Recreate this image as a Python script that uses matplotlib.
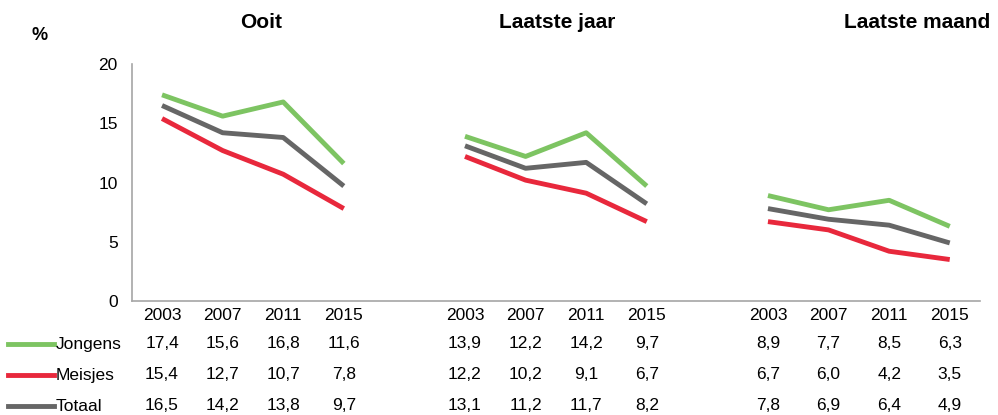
import matplotlib.pyplot as plt
import numpy as np

years = ["2003", "2007", "2011", "2015"]
groups = ["Ooit", "Laatste jaar", "Laatste maand"]
series = ["Jongens", "Meisjes", "Totaal"]
colors = ["#7dc462", "#e8283c", "#666666"]

jongens = [[17.4, 15.6, 16.8, 11.6], [13.9, 12.2, 14.2, 9.7], [8.9, 7.7, 8.5, 6.3]]
meisjes = [[15.4, 12.7, 10.7, 7.8], [12.2, 10.2, 9.1, 6.7], [6.7, 6.0, 4.2, 3.5]]
totaal = [[16.5, 14.2, 13.8, 9.7], [13.1, 11.2, 11.7, 8.2], [7.8, 6.9, 6.4, 4.9]]
values = [jongens, meisjes, totaal]

plt.rcParams['font.family'] = ['Liberation Sans', 'DejaVu Sans']

fig = plt.figure(figsize=(9.98, 4.15), dpi=100)
ax = fig.add_axes([0.132, 0.2747, 0.85, 0.571])

fs = 12.5
lw = 3.5
for s, (name, col) in enumerate(zip(series, colors)):
    for g in range(3):
        x = np.arange(4) + g * 5
        ax.plot(x, values[s][g], color=col, lw=lw, solid_capstyle='butt')

ax.set_xlim(-0.5, 13.5)
ax.set_ylim(0, 20)
ax.set_yticks([0, 5, 10, 15, 20])
ax.set_xticks([])
ax.tick_params(axis='y', length=0, labelsize=fs, pad=10)
for side in ['top', 'right']:
    ax.spines[side].set_visible(False)
for side in ['left', 'bottom']:
    ax.spines[side].set_color('#a6a6a6')
    ax.spines[side].set_linewidth(1.2)

tr = ax.get_xaxis_transform()
row_y = [-0.181, -0.312, -0.443]
for g in range(3):
    for i, yr in enumerate(years):
        xi = g * 5 + i
        ax.text(xi, -0.063, yr, transform=tr, ha='center', va='center', fontsize=fs, clip_on=False)
        for s in range(3):
            txt = f"{values[s][g][i]:.1f}".replace('.', ',')
            ax.text(xi, row_y[s], txt, transform=tr, ha='center', va='center', fontsize=fs, clip_on=False)

# legend column on the left
for s, (name, col) in enumerate(zip(series, colors)):
    yf = 1 - [344, 375, 406][s] / 415
    fig.add_artist(plt.Line2D([0.008, 0.054], [yf, yf], color=col, lw=lw, transform=fig.transFigure))
    fig.text(0.056, yf, name, ha='left', va='center', fontsize=fs)

# group titles
title_x = [261, 557, 917]
for g, t in enumerate(groups):
    fig.text(title_x[g] / 998, 1 - 22 / 415, t, ha='center', va='center', fontsize=15, fontweight='bold')
fig.text(40 / 998, 1 - 36 / 415, "%", ha='center', va='center', fontsize=13, fontweight='bold')

fig.savefig("out.png", dpi=100)
